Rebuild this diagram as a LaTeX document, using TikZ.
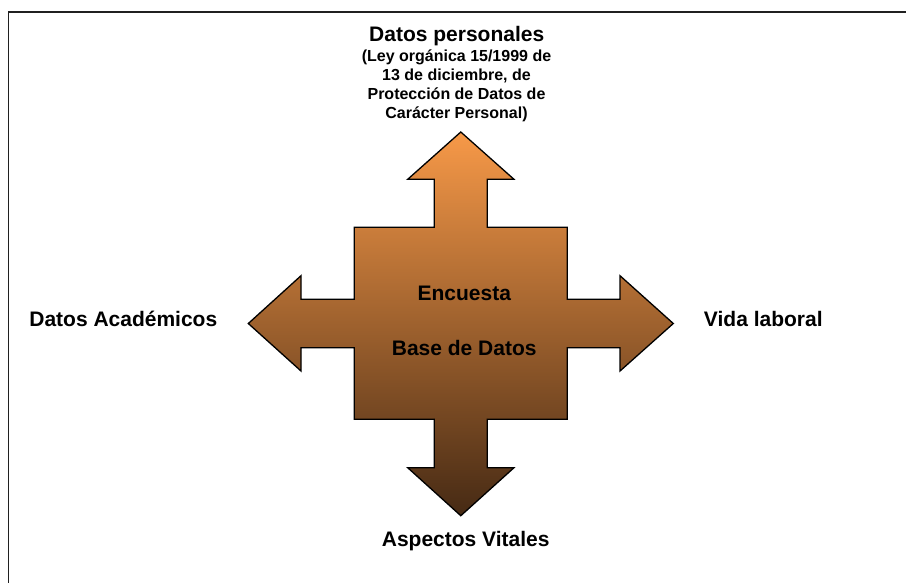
\documentclass[tikz,border=0pt]{standalone}
\usepackage{fontspec}
\setmainfont{Liberation Sans}
\usetikzlibrary{positioning}

\definecolor{crosstop}{RGB}{247,153,72}
\definecolor{crossmid}{RGB}{198,122,58}
\definecolor{crossbottom}{RGB}{70,42,20}

\begin{document}
\begin{tikzpicture}[
    x=1pt, y=-1pt,
    every node/.style={
        inner sep=0pt,
        outer sep=0pt,
    },
    sidetext/.style={
        anchor=base,
        font=\bfseries\fontsize{21}{25}\selectfont,
    },
    note/.style={
        anchor=north,
        align=center,
        font=\bfseries\fontsize{16}{19}\selectfont,
    },
    arrowcross/.style={
        draw=black,
        line width=1.3pt,
        line join=miter,
        top color=crosstop,
        middle color=crossmid,
        bottom color=crossbottom,
    },
    frame/.style={
        draw=gray!25!black,
        line width=1.3pt,
    },
]
    \useasboundingbox (0,0) rectangle (906,582);
    % ~~~ frame, only top and left edge visible ~~~~~~~~~~~~~~~~~~~~~~
    \draw[frame] (8.5,600) |- (920,12);

    % ~~~ four-way arrow ~~~~~~~~~~~~~~~~~~~~~~~~~~~~~~~~~~~~~~~~~~~~~~~
    \path[arrowcross]
        (460.8,132) -- (514,179.3) -- (487.3,179.3) -- (487.3,227.3)
        -- (567.3,227.3) -- (567.3,299.3) -- (620,299.3) -- (620,275.7)
        -- (673.3,323.5) -- (620,371) -- (620,347.7) -- (567.3,347.7)
        -- (567.3,419.3) -- (487.3,419.3) -- (487.3,467.7) -- (514,467.7)
        -- (460.8,515.7) -- (407.7,467.7) -- (434.3,467.7) -- (434.3,419.3)
        -- (354.3,419.3) -- (354.3,347.7) -- (301,347.7) -- (301,371)
        -- (248.3,323.5) -- (301,275.7) -- (301,299.3) -- (354.3,299.3)
        -- (354.3,227.3) -- (434.3,227.3) -- (434.3,179.3) -- (407.7,179.3)
        -- cycle;

    % ~~~ texts ~~~~~~~~~~~~~~~~~~~~~~~~~~~~~~~~~~~~~~~~~~~~~~~~~~~~~~~~
    \node[sidetext] (personales) at (456.7,41.7) {Datos personales};
    \node[note] (ley) at (456.5,49.5) {(Ley orgánica 15/1999 de\\13 de diciembre, de\\Protección de Datos de\\Carácter Personal)};
    \node[sidetext] (encuesta) at (464.3,300) {Encuesta};
    \node[sidetext] (basedatos) at (464.2,355) {Base de Datos};
    \node[sidetext] (academicos) at (123.3,326) {Datos Académicos};
    \node[sidetext] (laboral) at (763.3,326) {Vida laboral};
    \node[sidetext] (vitales) at (465.7,546) {Aspectos Vitales};
\end{tikzpicture}
\end{document}
